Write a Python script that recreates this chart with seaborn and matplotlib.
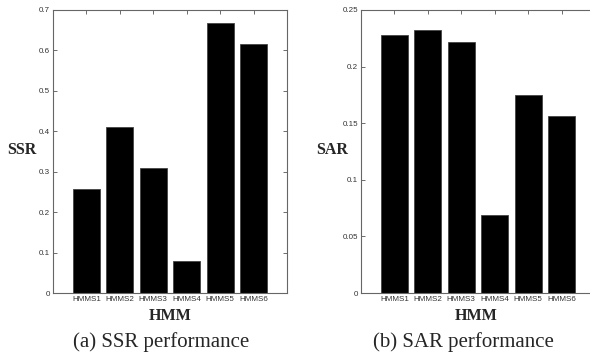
import seaborn as sns
import pandas as pd
import matplotlib.pyplot as plt
from matplotlib.ticker import FuncFormatter

models = ['HMMS1', 'HMMS2', 'HMMS3', 'HMMS4', 'HMMS5', 'HMMS6']
ssr = [0.257, 0.411, 0.309, 0.079, 0.669, 0.617]
sar = [0.228, 0.232, 0.222, 0.069, 0.175, 0.156]

ssr_ticks = [0, 0.1, 0.2, 0.3, 0.4, 0.5, 0.6, 0.7]
sar_ticks = [0, 0.05, 0.1, 0.15, 0.2, 0.25]

df = pd.DataFrame({'model': models, 'SSR': ssr, 'SAR': sar})

sns.set_style('white')
plt.rcParams['font.family'] = ['Liberation Sans', 'DejaVu Sans']

W, H = 590, 358
fig = plt.figure(figsize=(W / 100, H / 100), dpi=100)


def px(x0, y0, x1, y1):
    # pixel box (from top-left) -> figure fraction rect
    return [x0 / W, 1 - y1 / H, (x1 - x0) / W, (y1 - y0) / H]


panels = [
    ('SSR', ssr_ticks, px(53, 10, 287, 293), 22, 170, 161, '(a) SSR performance'),
    ('SAR', sar_ticks, px(361, 10, 595, 293), 332, 476, 463, '(b) SAR performance'),
]

for col, ticks, rect, ylab_x, xlab_x, cap_x, caption in panels:
    ax = fig.add_axes(rect)
    sns.barplot(data=df, x='model', y=col, color='black', width=0.8,
                saturation=1, edgecolor='#444', linewidth=0.6, ax=ax)
    ax.set_xlim(-1, 6)
    ax.set_ylim(0, ticks[-1])
    ax.set_yticks(ticks)
    ax.yaxis.set_major_formatter(FuncFormatter(lambda v, p: '%g' % v))
    ax.set_xlabel('')
    ax.set_ylabel('')
    ax.tick_params(direction='in', length=3, width=0.6, color='#555',
                   labelsize=5.8, labelcolor='#333', pad=2,
                   top=True, right=True, bottom=True, left=True)
    for s in ax.spines.values():
        s.set_visible(True)
        s.set_color('#666')
        s.set_linewidth(0.8)

    fig.text(ylab_x / W, 1 - 150 / H, col, family='Liberation Serif',
             weight='bold', fontsize=11.5, ha='center', va='center')
    fig.text(xlab_x / W, 1 - 316 / H, 'HMM', family='Liberation Serif',
             weight='bold', fontsize=11.5, ha='center', va='center')
    fig.text(cap_x / W, 1 - 342 / H, caption, family='Liberation Serif',
             fontsize=15, ha='center', va='center')

plt.savefig('out.png', dpi=100)
